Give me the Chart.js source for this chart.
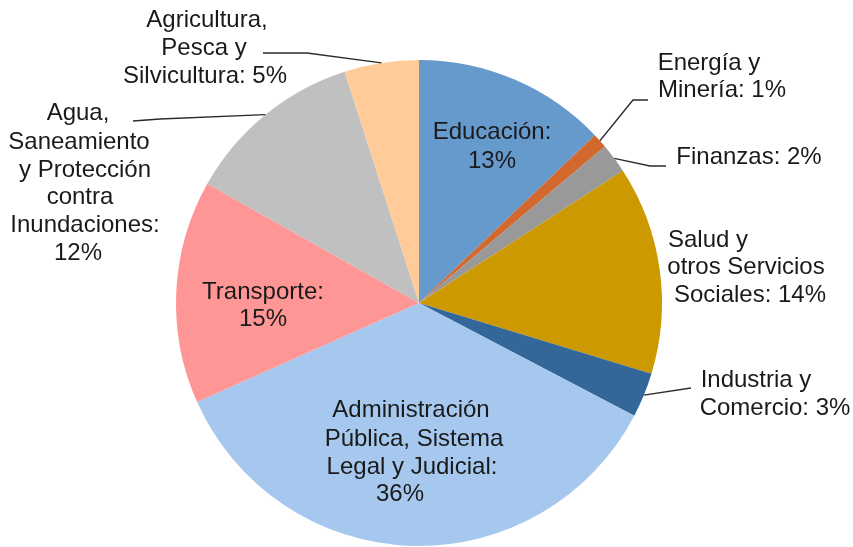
<!DOCTYPE html>
<html lang="es">
<head>
<meta charset="utf-8">
<title>Distribución por sector</title>
<script src="https://cdn.jsdelivr.net/npm/chart.js@4.4.1/dist/chart.umd.min.js"></script>
<style>
    html, body { margin: 0; padding: 0; background: #fff; }
    #wrap { width: 853px; height: 547px; }
</style>
</head>
<body>
<div id="wrap"><canvas id="grafico" width="853" height="547"></canvas></div>
<script>
// Datos del grafico
const sectores = [
    'Educación',
    'Energía y Minería',
    'Finanzas',
    'Salud y otros Servicios Sociales',
    'Industria y Comercio',
    'Administración Pública, Sistema Legal y Judicial',
    'Transporte',
    'Agua, Saneamiento y Protección contra Inundaciones',
    'Agricultura, Pesca y Silvicultura'
];
const porcentajes = [13, 1, 2, 14, 3, 36, 15, 12, 5];
const colores = ['#6699CC', '#D2682E', '#999999', '#CC9900', '#336699', '#A6C8EE', '#FF9696', '#C0C0C0', '#FFCC99'];

// Rotulos partidos en lineas ({v} = porcentaje), posicion de cada linea
// y quiebre de la linea guia (si la hay)
const rotulos = [
    { lineas: ['Educación:', '{v}%'], x: [492, 492], y: [132, 161] },
    { lineas: ['Energía y', 'Minería: {v}%'], x: [709, 722], y: [63, 90],
      guia: [[648, 100], [633, 100]] },
    { lineas: ['Finanzas: {v}%'], x: [749], y: [157],
      guia: [[666, 166], [650, 166]] },
    { lineas: ['Salud y', 'otros Servicios', 'Sociales: {v}%'], x: [708, 746, 750], y: [240, 267, 295] },
    { lineas: ['Industria y', 'Comercio: {v}%'], x: [756, 775], y: [380, 408],
      guia: [[691, 388]] },
    { lineas: ['Administración', 'Pública, Sistema', 'Legal y Judicial:', '{v}%'], x: [411, 414, 412, 400], y: [410, 439, 467, 494] },
    { lineas: ['Transporte:', '{v}%'], x: [263, 263], y: [292, 319] },
    { lineas: ['Agua,', 'Saneamiento', 'y Protección', 'contra', 'Inundaciones:', '{v}%'],
      x: [78, 79, 85, 80, 85, 78], y: [113, 142, 170, 197, 225, 253],
      guia: [[133, 121], [160, 119]] },
    { lineas: ['Agricultura,', 'Pesca y', 'Silvicultura: {v}%'], x: [207, 204, 205], y: [20, 48, 76],
      guia: [[263, 53], [307, 53]] }
];

// Dibuja lineas guia y textos sobre la torta
const rotulosPlugin = {
    id: 'rotulos',
    afterDatasetsDraw(chart) {
        const ctx = chart.ctx;
        const arcos = chart.getDatasetMeta(0).data;
        const valores = chart.data.datasets[0].data;

        ctx.save();
        ctx.strokeStyle = '#2b2b2b';
        ctx.lineWidth = 1.3;
        rotulos.forEach((r, i) => {
            if (!r.guia) return;
            // la guia termina en el borde, a mitad del sector
            const a = arcos[i].getProps(['x', 'y', 'startAngle', 'endAngle', 'outerRadius'], true);
            const medio = (a.startAngle + a.endAngle) / 2;
            const bx = a.x + Math.cos(medio) * a.outerRadius;
            const by = a.y + Math.sin(medio) * a.outerRadius;
            ctx.beginPath();
            ctx.moveTo(r.guia[0][0], r.guia[0][1]);
            r.guia.slice(1).forEach(p => ctx.lineTo(p[0], p[1]));
            ctx.lineTo(bx, by);
            ctx.stroke();
        });

        ctx.fillStyle = '#1a1a1a';
        ctx.font = '24px "Liberation Sans", Arial, sans-serif';
        ctx.textAlign = 'center';
        ctx.textBaseline = 'middle';
        rotulos.forEach((r, i) => {
            r.lineas.forEach((txt, k) => {
                ctx.fillText(txt.replace('{v}', valores[i]), r.x[k], r.y[k]);
            });
        });
        ctx.restore();
    }
};

const ctx = document.getElementById('grafico').getContext('2d');
new Chart(ctx, {
    type: 'pie',
    data: {
        labels: sectores,
        datasets: [{
            data: porcentajes,
            backgroundColor: colores,
            borderWidth: 0,
            hoverOffset: 0
        }]
    },
    options: {
        responsive: false,
        animation: false,
        events: [],
        layout: { padding: { top: 60, bottom: 1, left: 176, right: 191 } },
        plugins: {
            legend: { display: false },
            tooltip: { enabled: false }
        }
    },
    plugins: [rotulosPlugin]
});
</script>
</body>
</html>
